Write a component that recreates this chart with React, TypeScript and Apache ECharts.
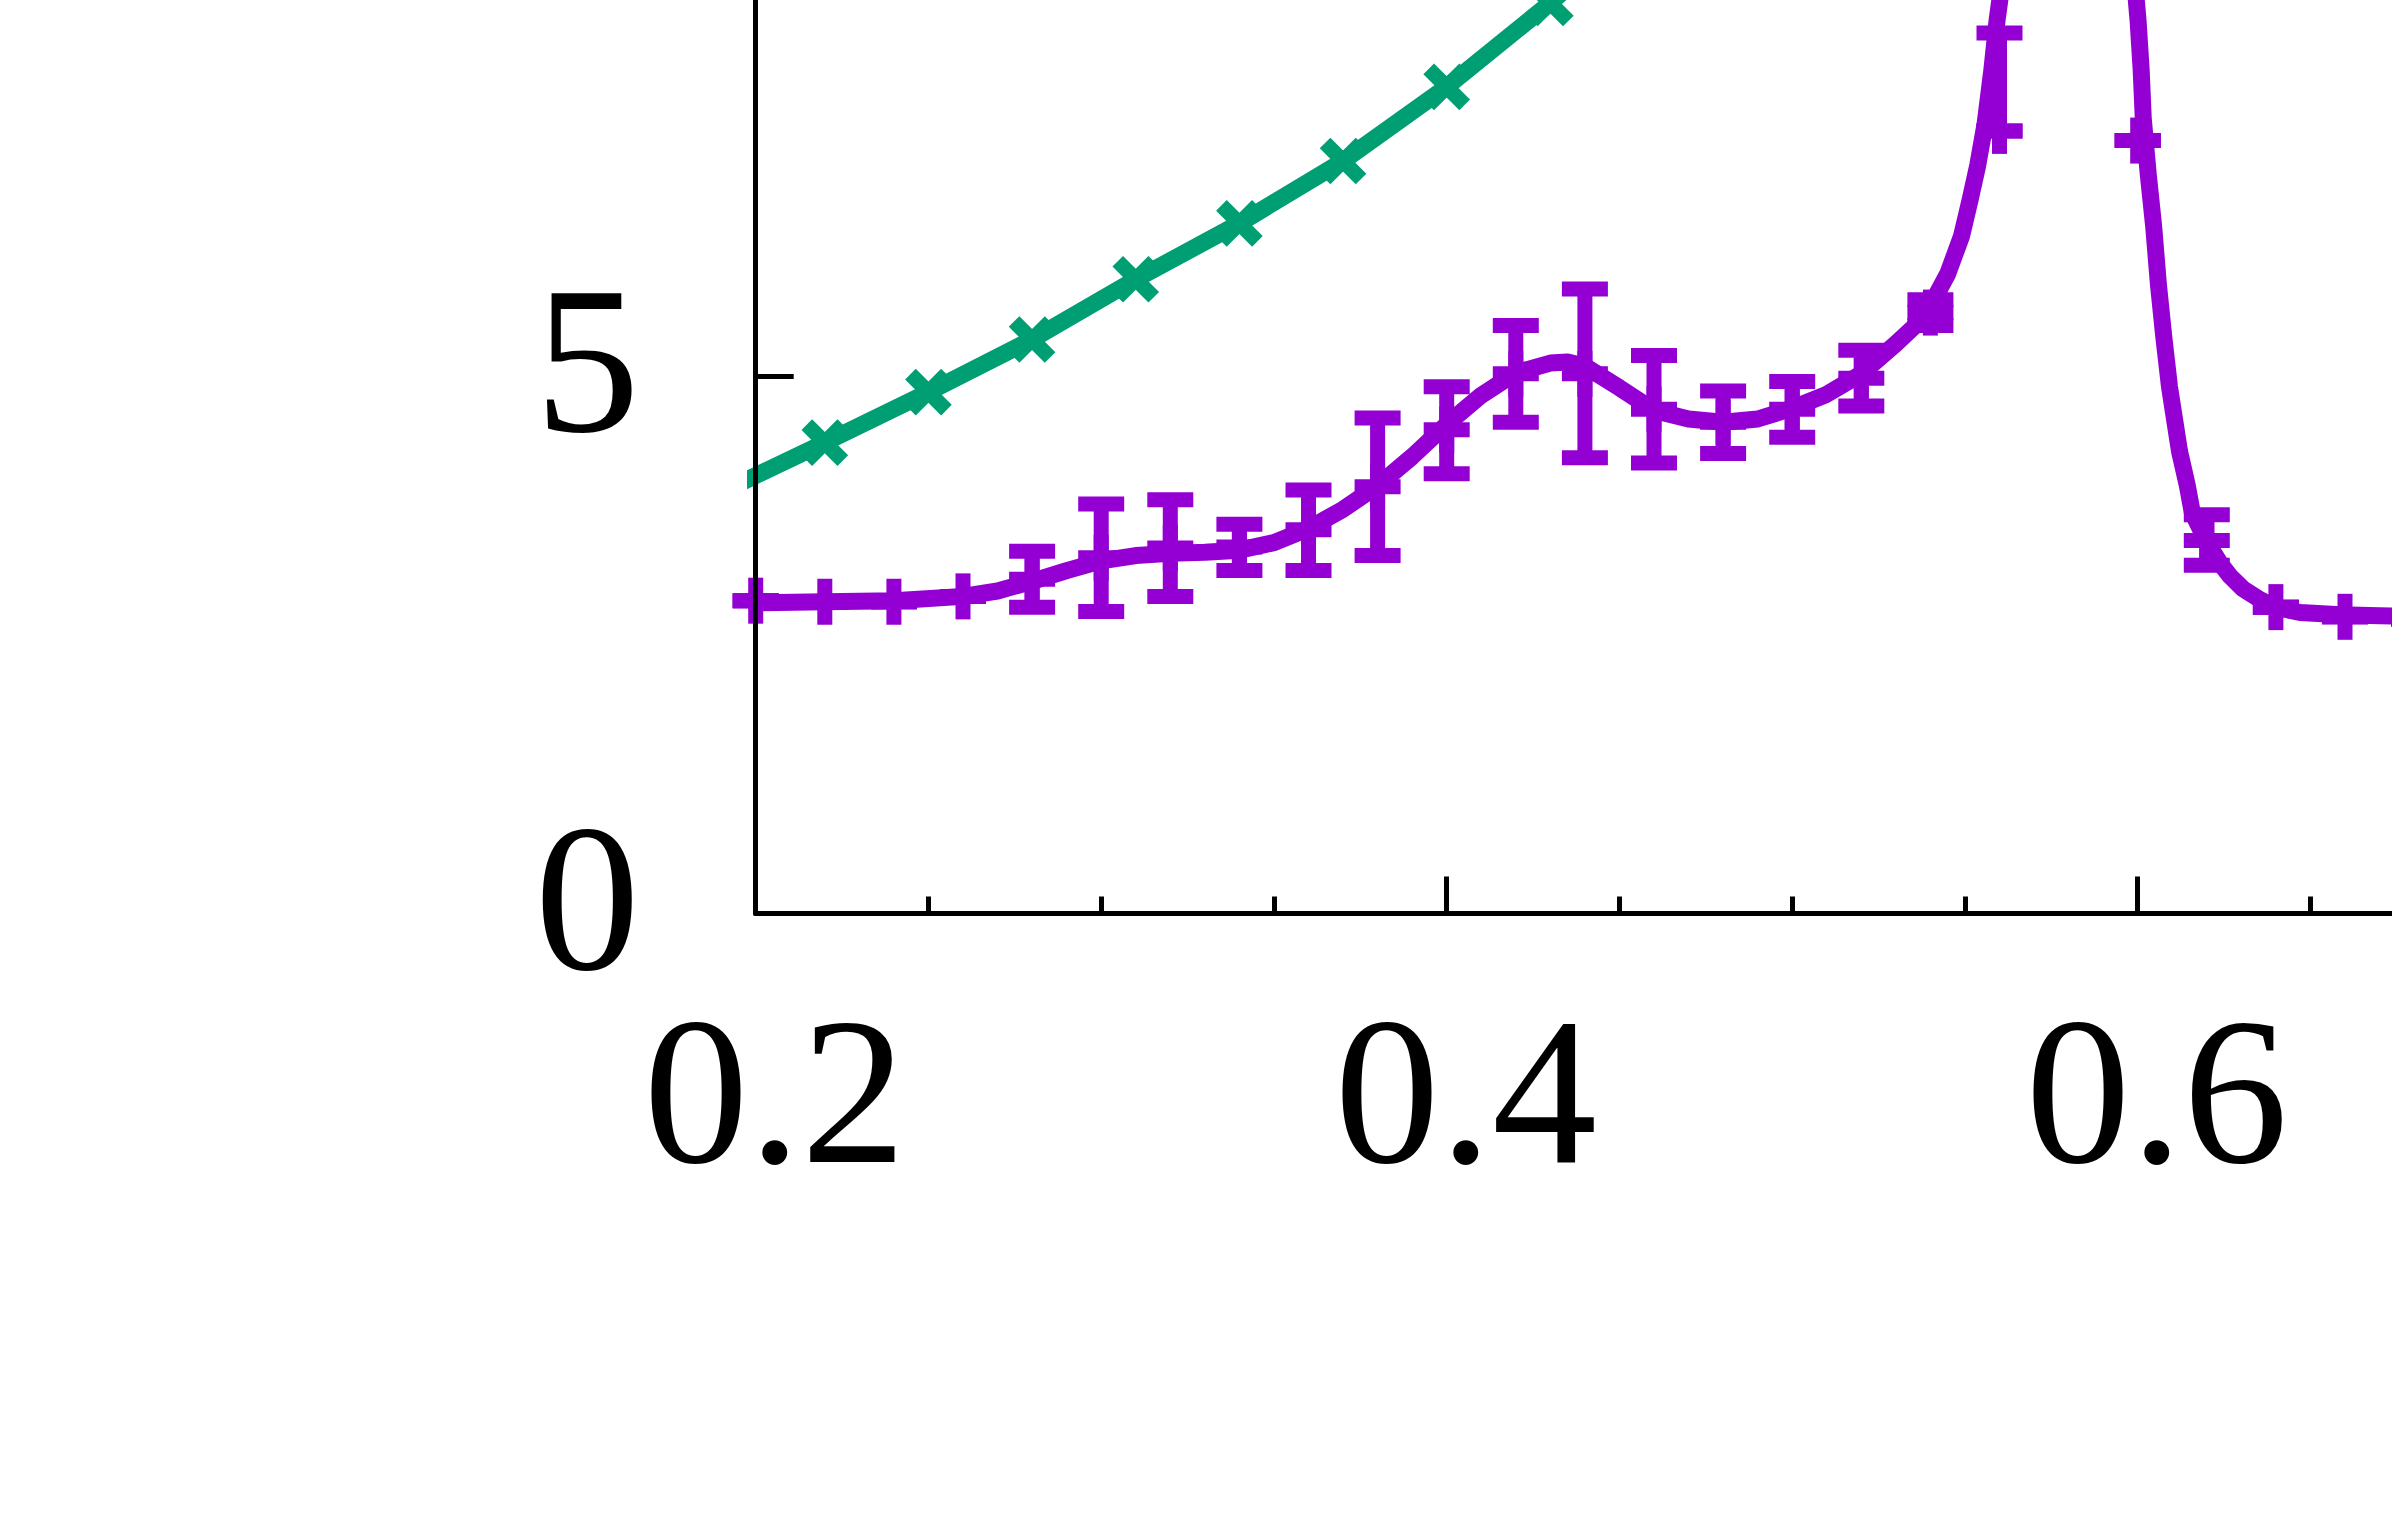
import React, { useEffect, useRef } from "react";
import * as echarts from "echarts";

// ---- data ----
// purple fitted curve (dense)
const purpleLineX = [
  0.2, 0.22, 0.24, 0.26, 0.27, 0.28, 0.29, 0.3, 0.31, 0.32, 0.33, 0.34, 0.35, 0.36, 0.37, 0.38, 0.39, 0.4,
  0.41, 0.42, 0.43, 0.435, 0.44, 0.45, 0.46, 0.47, 0.48, 0.49, 0.5, 0.51, 0.52, 0.53, 0.535, 0.54, 0.545,
  0.549, 0.5515, 0.5537, 0.5558, 0.5578, 0.5593, 0.5601, 0.565, 0.57, 0.58, 0.59, 0.595, 0.5985, 0.6001,
  0.601, 0.6016, 0.6031, 0.6046, 0.606, 0.6076, 0.6092, 0.6107, 0.6121, 0.6143, 0.6158, 0.6196, 0.6238,
  0.6267, 0.6305, 0.6354, 0.6398, 0.647, 0.6586, 0.67, 0.68, 0.7,
];
const purpleLineY = [
  2.89, 2.9, 2.91, 2.95, 3.0, 3.09, 3.19, 3.28, 3.33, 3.35, 3.36, 3.38, 3.45, 3.58, 3.76, 3.98, 4.25, 4.55,
  4.82, 5.03, 5.12, 5.13, 5.09, 4.89, 4.68, 4.6, 4.57, 4.6, 4.7, 4.83, 5.02, 5.3, 5.45, 5.65, 5.95,
  6.3, 6.64, 6.96, 7.34, 7.85, 8.31, 8.5, 10.6, 13.5, 17.0, 13.0, 10.6, 8.9, 8.31,
  7.85, 7.4, 6.86, 6.4, 5.85, 5.35, 4.9, 4.59, 4.3, 3.99, 3.73, 3.48, 3.26,
  3.14, 3.02, 2.92, 2.85, 2.8, 2.78, 2.77, 2.76, 2.75,
];
// purple data points with error bars
const purplePtX = [
  0.2, 0.22, 0.24, 0.26, 0.28, 0.3, 0.32, 0.34, 0.36, 0.38, 0.4, 0.42, 0.44, 0.46, 0.48, 0.5, 0.52, 0.54,
  0.56, 0.58, 0.6, 0.62, 0.64, 0.66, 0.68,
];
const purplePtY = [
  2.91, 2.9, 2.9, 2.95, 3.11, 3.31, 3.4, 3.41, 3.57, 3.97, 4.5, 5.02, 5.02, 4.69, 4.57, 4.69, 4.98, 5.59,
  7.28, 12.0, 7.19, 3.47, 2.85, 2.76, 2.74,
];
const purplePtLo = [
  2.91, 2.9, 2.9, 2.95, 2.85, 2.81, 2.95, 3.19, 3.19, 3.33, 4.09, 4.57, 4.24, 4.19, 4.28, 4.43, 4.72, 5.47,
  7.28, 11.0, 7.19, 3.24, 2.85, 2.76, 2.74,
];
const purplePtHi = [
  2.91, 2.9, 2.9, 2.95, 3.37, 3.81, 3.85, 3.62, 3.94, 4.61, 4.9, 5.47, 5.81, 5.19, 4.86, 4.95, 5.24, 5.71,
  8.19, 13.0, 7.19, 3.71, 2.85, 2.76, 2.74,
];
// green series
const greenX = [0.19, 0.22, 0.25, 0.28, 0.31, 0.34, 0.37, 0.4, 0.43, 0.46, 0.49];
const greenY = [3.92, 4.38, 4.85, 5.34, 5.9, 6.42, 7.0, 7.69, 8.47, 9.33, 10.25];

const PURPLE = "#9400D3";
const GREEN = "#009E73";
const LINE_W = 17;
const BAR_W = 15;
const HALF = 23;
const XA = 18;
const FONT = "Liberation Serif";

export default function App() {
  const ref = useRef<HTMLDivElement>(null);

  useEffect(() => {
    const chart = echarts.init(ref.current!, null, { renderer: "svg" });

    const line = (x1: number, y1: number, x2: number, y2: number, color: string, w: number) => ({
      type: "line",
      shape: { x1, y1, x2, y2 },
      style: { stroke: color, lineWidth: w, fill: null, lineCap: "butt" },
    });

    chart.setOption({
      animation: false,
      backgroundColor: "#ffffff",
      grid: { left: 755.7, right: 171.3, top: 238.5, bottom: 602.5, containLabel: false },
      xAxis: {
        type: "value",
        min: 0.2,
        max: 0.8,
        interval: 0.2,
        z: 10,
        splitLine: { show: false },
        axisLine: { show: true, lineStyle: { color: "#000", width: 5 } },
        axisTick: { show: true, inside: true, length: 37, lineStyle: { color: "#000", width: 5 } },
        minorTick: { show: true, splitNumber: 4, length: 17, lineStyle: { color: "#000", width: 5 } },
        axisLabel: {
          fontFamily: FONT,
          fontSize: 210,
          color: "#000",
          margin: 72,
          padding: [0, 0, 0, 38],
          showMaxLabel: false,
          formatter: (v: number) => v.toFixed(1),
        },
      },
      yAxis: {
        type: "value",
        min: 0,
        max: 10,
        interval: 5,
        z: 10,
        splitLine: { show: false },
        axisLine: { show: true, lineStyle: { color: "#000", width: 5 } },
        axisTick: { show: true, inside: true, length: 38, lineStyle: { color: "#000", width: 5 } },
        axisLabel: {
          fontFamily: FONT,
          fontSize: 210,
          color: "#000",
          margin: 116,
          verticalAlign: "bottom",
          lineHeight: 32,
          showMaxLabel: false,
          formatter: (v: number) => String(v),
        },
      },
      series: [
        {
          type: "line",
          data: greenX.map((x, i) => [x, greenY[i]]),
          showSymbol: false,
          symbol: "none",
          clip: true,
          z: 2,
          lineStyle: { color: GREEN, width: LINE_W, join: "round", cap: "butt" },
        },
        {
          type: "custom",
          clip: true,
          z: 3,
          data: greenX.map((x, i) => [x, greenY[i]]),
          encode: { x: 0, y: 1 },
          renderItem: (params: any, api: any) => {
            const c = api.coord([api.value(0), api.value(1)]);
            return {
              type: "group",
              children: [
                line(c[0] - XA, c[1] - XA, c[0] + XA, c[1] + XA, GREEN, BAR_W),
                line(c[0] - XA, c[1] + XA, c[0] + XA, c[1] - XA, GREEN, BAR_W),
              ],
            };
          },
        },
        {
          type: "line",
          data: purpleLineX.map((x, i) => [x, purpleLineY[i]]),
          showSymbol: false,
          symbol: "none",
          clip: true,
          z: 2,
          lineStyle: { color: PURPLE, width: LINE_W, join: "round", cap: "butt" },
        },
        {
          type: "custom",
          clip: false,
          z: 3,
          data: purplePtX.map((x, i) => [x, purplePtY[i], purplePtLo[i], purplePtHi[i]]),
          encode: { x: 0, y: 1 },
          renderItem: (params: any, api: any) => {
            const x = api.value(0);
            const c = api.coord([x, api.value(1)]);
            const lo = api.coord([x, api.value(2)]);
            const hi = api.coord([x, api.value(3)]);
            return {
              type: "group",
              children: [
                line(c[0], hi[1], c[0], lo[1], PURPLE, BAR_W),
                line(c[0] - HALF, hi[1], c[0] + HALF, hi[1], PURPLE, BAR_W),
                line(c[0] - HALF, lo[1], c[0] + HALF, lo[1], PURPLE, BAR_W),
                line(c[0] - HALF, c[1], c[0] + HALF, c[1], PURPLE, BAR_W),
                line(c[0], c[1] - HALF, c[0], c[1] + HALF, PURPLE, BAR_W),
              ],
            };
          },
        },
      ],
    });

    return () => chart.dispose();
  }, []);

  return (
    <div
      style={{
        position: "fixed",
        left: 0,
        top: 0,
        width: 2392,
        height: 1516,
        overflow: "hidden",
        background: "#ffffff",
      }}
    >
      <div ref={ref} style={{ position: "absolute", left: 0, top: -400, width: 3000, height: 1916 }} />
    </div>
  );
}
